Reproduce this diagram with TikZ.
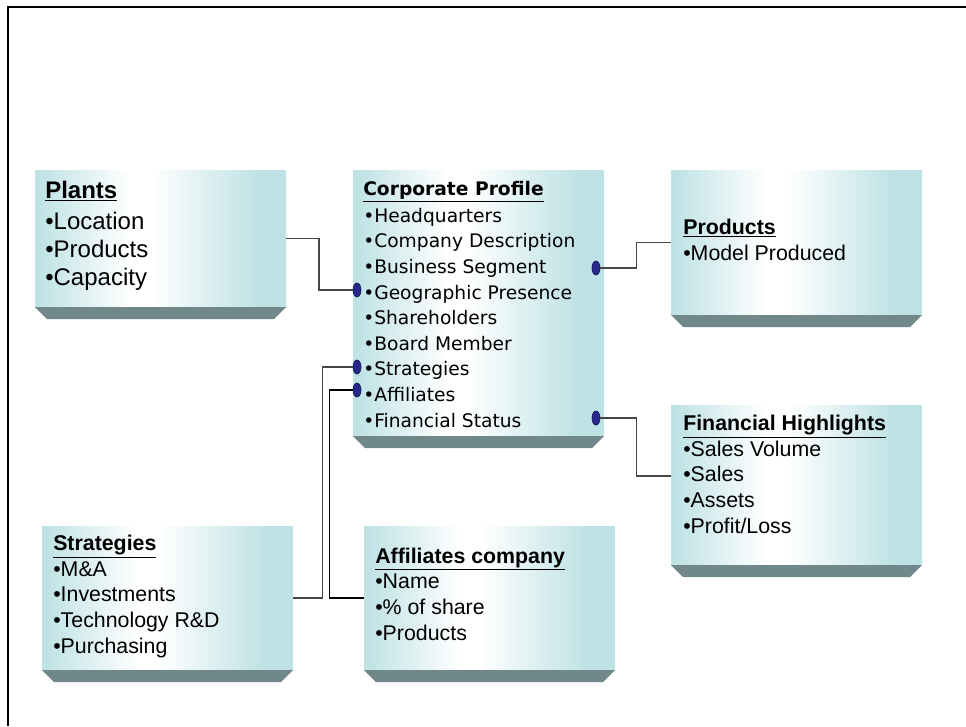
\documentclass[tikz,border=0pt]{standalone}
\usepackage{fontspec}
\setmainfont{Liberation Sans}
\newfontfamily\verd{DejaVu Sans}
\usetikzlibrary{calc,shapes.geometric}
\definecolor{tealbox}{RGB}{189,225,228}
\definecolor{bevelc}{RGB}{113,136,138}
\definecolor{navy}{RGB}{40,40,140}
\definecolor{navyd}{RGB}{22,22,90}
\definecolor{connc}{RGB}{70,70,70}
\pgfdeclarehorizontalshading{boxshade}{100bp}{color(0bp)=(tealbox); color(25bp)=(tealbox); color(44bp)=(white); color(48bp)=(white); color(70bp)=(tealbox); color(100bp)=(tealbox)}
\begin{document}
\begin{tikzpicture}[x=0.75pt,y=-0.75pt,
  face/.style={shade, shading=boxshade, anchor=north west, inner sep=0pt, outer sep=0pt, minimum width=188.25pt},
  bevel/.style={fill=bevelc},
  txt/.style={anchor=base west, align=left, inner sep=0pt},
  small/.style={font=\fontsize{16}{19.2}\selectfont},
  big/.style={font=\fontsize{18}{21}\selectfont},
  corp/.style={font=\verd\fontsize{14}{19.2}\selectfont},
  conn/.style={draw=connc, line width=1.1pt},
  dot/.style={ellipse, fill=navy, draw=navyd, line width=0.5pt, minimum width=6pt, minimum height=10.5pt, inner sep=0pt}]
\useasboundingbox (0,0) rectangle (966,726);
\fill[white] (0,0) rectangle (966,726);
\draw[line width=1.5pt] (966,6.8) -- (7.8,6.8) -- (7.8,726);

% boxes
\node[face, minimum height=102.75pt] (plants) at (35,170) {};
\node[face, minimum height=199.5pt] (corp) at (353,170) {};
\node[face, minimum height=108.75pt] (prod) at (671,170) {};
\node[face, minimum height=120pt] (fin) at (671,405) {};
\node[face, minimum height=108pt] (strat) at (42,526) {};
\node[face, minimum height=108pt] (aff) at (364,526) {};
\foreach \n in {plants,corp,prod,fin,strat,aff}{
  \fill[bevel] (\n.south west) -- (\n.south east) -- ++(-12,12) -- ($(\n.south west)+(12,12)$) -- cycle;
}

% texts (anchored at the baseline of the last line)
\node[txt,big] (plantsT) at (45,285) {\underline{\textbf{Plants}}\\[2.25pt]•Location\\•Products\\•Capacity};
\node[txt,corp] (corpT) at (363,427) {\underline{\textbf{Corporate Profile}}\\[1pt]•Headquarters\\•Company Description\\•Business Segment\\•Geographic Presence\\•Shareholders\\•Board Member\\•Strategies\\•Affiliates\\•Financial Status};
\node[txt,small] (prodT) at (683,260) {\underline{\textbf{Products}}\\•Model Produced};
\node[txt,small] (finT) at (683,533) {\underline{\textbf{Financial Highlights}}\\•Sales Volume\\•Sales\\•Assets\\•Profit/Loss};
\node[txt,small] (stratT) at (53,653) {\underline{\textbf{Strategies}}\\•M\&A\\•Investments\\•Technology R\&D\\•Purchasing};
\node[txt,small] (affT) at (375,640) {\underline{\textbf{Affiliates company}}\\•Name\\•\% of share\\•Products};

% connector ends
\node[dot] (eGeo) at (357,290) {};
\node[dot] (eStr) at (357,367) {};
\node[dot] (eAff) at (357,390) {};
\node[dot] (eBus) at (596,268) {};
\node[dot] (eFin) at (596,418) {};

% connectors
\draw[conn] (plants.east) -- ++(33,0) |- (eGeo.west);
\draw[conn] (eBus.east) -- ++(36,0) |- (prod.west);
\draw[conn] (eFin.east) -- ++(36,0) |- ([yshift=6.75pt]fin.west);
\draw[conn] (eStr.west) -- ++(-30,0) |- (strat.east);
\draw[conn, draw=black] (eAff.west) -- ++(-23,0) |- (aff.west);
\end{tikzpicture}
\end{document}
